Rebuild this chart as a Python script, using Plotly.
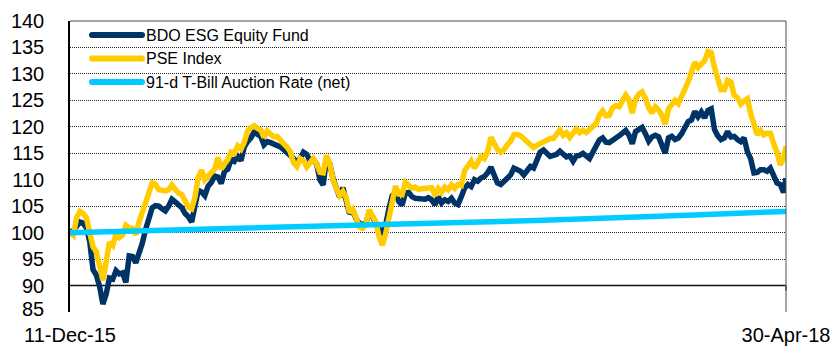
import pandas as pd
import plotly.graph_objects as go

# ---- data -------------------------------------------------------------
start_date = "2015-12-11"
end_date = "2018-04-30"
# observations every 4 calendar days, plus the final valuation date
dates = list(pd.date_range(start_date, end_date, freq="4D")) + [pd.Timestamp(end_date)]

series_names = ["BDO ESG Equity Fund", "PSE Index", "91-d T-Bill Auction Rate (net)"]

bdo_fund = [
    100, 100.4, 101.2, 102, 101.8, 100.9, 98.3, 93, 92, 89.8, 86.5, 88.4, 91.4, 91.2, 92.8, 92.2,
    92.4, 90.6, 95.6, 95.5, 94.3, 96, 98, 100.6, 103.2, 104.7, 105.1, 105, 104.5, 104.1, 105, 106.3,
    105.8, 105.2, 104.7, 103.6,
    103, 102, 104.6, 108, 107.7, 107, 108.8, 109.5, 110.7, 110.5, 109.3, 111.6, 112, 113.9, 113.5,
    114.4, 113.6, 116.2, 117.2, 117.9, 119, 118.7, 118.2, 116.6, 117.2, 117, 116.8, 116.6, 116.2,
    115.7, 115.3, 114.6, 114, 113.3, 114, 115.2, 114.8,
    113.6, 113.7, 113, 110, 109, 114, 113, 110.2, 108.5, 106.7, 108.5, 106.4, 103.6, 104.3, 102.6,
    101.8, 101.5, 101.8, 103.8, 103, 101.6, 100.5, 100, 101.5, 104.5, 107, 107.5, 105.9, 105.2,
    107.5, 107.6, 106.8, 106.5, 106.5, 106.4, 106.3, 106.6,
    106.2, 105.3, 106.8, 105.6, 106.2, 105.9, 106.5, 105.6, 105.3, 106.8, 108.4, 109.1, 108.7, 110,
    109.7, 110.3, 110.6, 111.3, 112.4, 110.9, 109.4, 109.1, 109.7, 110.3, 110.9, 112.2, 111.9,
    111.6, 110.9, 111.9, 112.5, 112.2, 113.6, 115.2, 115.6, 114.8,
    114.4, 114.6, 114.8, 115.4, 114.9, 114.3, 114.5, 113.5, 114.5, 114.6, 115, 114.4, 114, 115.2,
    116.3, 117.5, 117.9, 117.1, 117, 117.6, 117.9, 118.3, 118.9, 119.3, 118.4, 116.8, 119.1, 119.4,
    119.9, 118.7, 117.3, 118.1, 118.4, 118.1, 116.8, 115,
    117.9, 118.2, 117.6, 117.9, 118.7, 120, 121, 121.3, 122.9, 121.9, 122.8, 121.7, 123.1, 123.4,
    119.5, 118.3, 117.6, 117.9, 119.1, 118.1, 118.2, 117.6, 117.2, 117.9, 115.3, 114, 111.3, 111.4,
    111.9, 111.9, 111.6, 112.2, 110.6, 109.4, 109.1, 107.6, 110.3,
]

pse_index = [
    100, 99.5, 102.8, 104, 103.6, 102.8, 100, 97.3, 96.4, 94, 91, 94.5, 98.2, 97.6, 99.8, 99.1,
    99.6, 101.4, 100.9, 100.8, 99.6, 102, 104, 105.6, 107.5, 109.4, 109.1, 108.1, 108, 107.9, 108.1,
    109, 108.2, 107.5, 107.2, 106.2,
    104.8, 104.5, 106.7, 110.5, 111.8, 110, 110.8, 111.2, 112, 114.2, 112, 113, 113.8, 115.2, 115,
    116.4, 115.8, 117.1, 119.2, 119.8, 120.2, 119.7, 119.4, 118, 119.2, 118.6, 118.1, 118.2, 117.3,
    116.8, 116.2, 115.3, 113.2, 112.5, 114, 113.6, 112.4,
    113.4, 114, 113, 111.4, 111.3, 114.6, 113, 110, 108.4, 107, 107.8, 106.6, 103.8, 104.4, 102.8,
    101.1, 100.8, 101.6, 104.3, 102.9, 102, 99.2, 97.6, 99.8, 103.2, 106.2, 108.8, 107.3, 107.2,
    109.5, 109, 108.4, 108.6, 108.2, 108.3, 108.3, 108.3,
    108.5, 107, 108.3, 107.6, 108.6, 108.1, 109, 108.4, 109.1, 108.9, 111.7, 112.6, 113.5, 112.2,
    113.1, 114.4, 114, 115.3, 118, 116.6, 115.7, 115.2, 115.7, 116.6, 117.3, 118.5, 118.6, 118.3,
    117.8, 117.3, 116.6, 116.1, 116.5, 116.9, 117, 117.5,
    117.8, 117.8, 118.5, 119.4, 118.4, 118.9, 118, 119, 119.6, 118.9, 119.3, 118.9, 119.4, 119.8,
    120.6, 122.2, 123, 122.1, 122.2, 123.6, 124, 123.8, 124.9, 126, 125.1, 122.6, 125.2, 126.2,
    126.6, 125.4, 123.6, 122.6, 123.8, 123.2, 122.2, 120.5,
    123.4, 124.1, 125, 124.4, 125.8, 126.6, 128.5, 130.3, 132.2, 131.2, 131.8, 132.5, 134.2, 134,
    131.2, 128.6, 127, 127, 128.8, 128.5, 126, 125.5, 124.3, 124.9, 125.3, 122.5, 120.5, 118.5,
    119.3, 118.5, 118.8, 118.8, 116.8, 115.2, 112.8, 114, 116.3,
]

tbill_dates = ["2015-12-11", "2016-06-30", "2016-12-31", "2017-06-30", "2017-12-31", "2018-04-30"]
tbill_rate = [100.0, 100.75, 101.5, 102.3, 103.3, 104.0]

y_ticks = list(range(85, 141, 5))
x_tick_labels = ["11-Dec-15", "30-Apr-18"]

# ---- styling ----------------------------------------------------------
NAVY = "#003366"
GOLD = "#FFCC00"
SKY = "#00CCFF"
colors = [NAVY, GOLD, SKY]
FONT = "Arial, 'Liberation Sans', sans-serif"

W, H = 835, 346
L, R, T, B = 70, 49, 21, 34
plot_w, plot_h = W - L - R, H - T - B


def px_x(px):
    return (px - L) / plot_w


def px_y(py):
    return (H - B - py) / plot_h


fig = go.Figure()
fig.add_trace(go.Scatter(x=dates, y=bdo_fund, mode="lines", name=series_names[0],
                         line=dict(color=NAVY, width=5.5)))
fig.add_trace(go.Scatter(x=dates, y=pse_index, mode="lines", name=series_names[1],
                         line=dict(color=GOLD, width=5.5)))
fig.add_trace(go.Scatter(x=pd.to_datetime(tbill_dates), y=tbill_rate, mode="lines",
                         name=series_names[2], line=dict(color=SKY, width=5.5)))

shapes = [
    # solid horizontal axis at 90
    dict(type="line", xref="paper", yref="y", x0=0, x1=1, y0=90, y1=90,
         line=dict(color="black", width=1.5), layer="below"),
    # short tick mark at the right end of the 90 axis
    dict(type="line", xref="paper", yref="y", x0=1, x1=1, y0=90, y1=89,
         line=dict(color="#4d4d4d", width=1.5), layer="below"),
    # top and right frame
    dict(type="line", xref="paper", yref="paper", x0=0, x1=1, y0=1, y1=1,
         line=dict(color="#4d4d4d", width=1)),
    dict(type="line", xref="paper", yref="paper", x0=1, x1=1, y0=0, y1=1,
         line=dict(color="#4d4d4d", width=1)),
]

annotations = []
legend_rows = [35, 58.5, 82]
for name, color, row in zip(series_names, colors, legend_rows):
    yy = px_y(row)
    shapes.append(dict(type="line", xref="paper", yref="paper", x0=px_x(92), x1=px_x(142),
                       y0=yy, y1=yy, line=dict(color=color, width=6)))
    for cx in (92, 142):
        shapes.append(dict(type="circle", xref="paper", yref="paper",
                           x0=px_x(cx - 3), x1=px_x(cx + 3), y0=px_y(row + 3), y1=px_y(row - 3),
                           fillcolor=color, line=dict(width=0)))
    annotations.append(dict(xref="paper", yref="paper", x=px_x(144), y=yy, text=name,
                            showarrow=False, xanchor="left", yanchor="middle",
                            font=dict(family=FONT, size=16, color="black")))

# the lowest y label sits slightly raised, clear of the date labels
annotations.append(dict(xref="paper", yref="paper", x=px_x(46), y=px_y(308.5), text=str(y_ticks[0]),
                        showarrow=False, xanchor="right", yanchor="middle",
                        font=dict(family=FONT, size=20, color="black")))
y_tick_text = [""] + [str(v) for v in y_ticks[1:]]

fig.update_layout(
    width=W, height=H,
    margin=dict(l=L, r=R, t=T, b=B),
    paper_bgcolor="white", plot_bgcolor="white",
    showlegend=False,
    shapes=shapes,
    annotations=annotations,
    font=dict(family=FONT, color="black"),
)

fig.update_xaxes(
    type="date",
    range=[start_date, end_date],
    tickvals=[start_date, end_date],
    ticktext=x_tick_labels,
    tickfont=dict(family=FONT, size=20, color="black"),
    showgrid=False, zeroline=False, showline=False, ticks="",
    automargin=False, ticklabelstandoff=9,
)

fig.update_yaxes(
    range=[85, 140],
    tickvals=y_ticks,
    ticktext=y_tick_text,
    tickfont=dict(family=FONT, size=20, color="black"),
    showgrid=True, gridcolor="#262626", gridwidth=1, griddash="1px,1px",
    zeroline=False,
    showline=True, linecolor="black", linewidth=1.5,
    ticks="", ticklabelstandoff=20, automargin=False,
)

fig.write_html("out.html")
